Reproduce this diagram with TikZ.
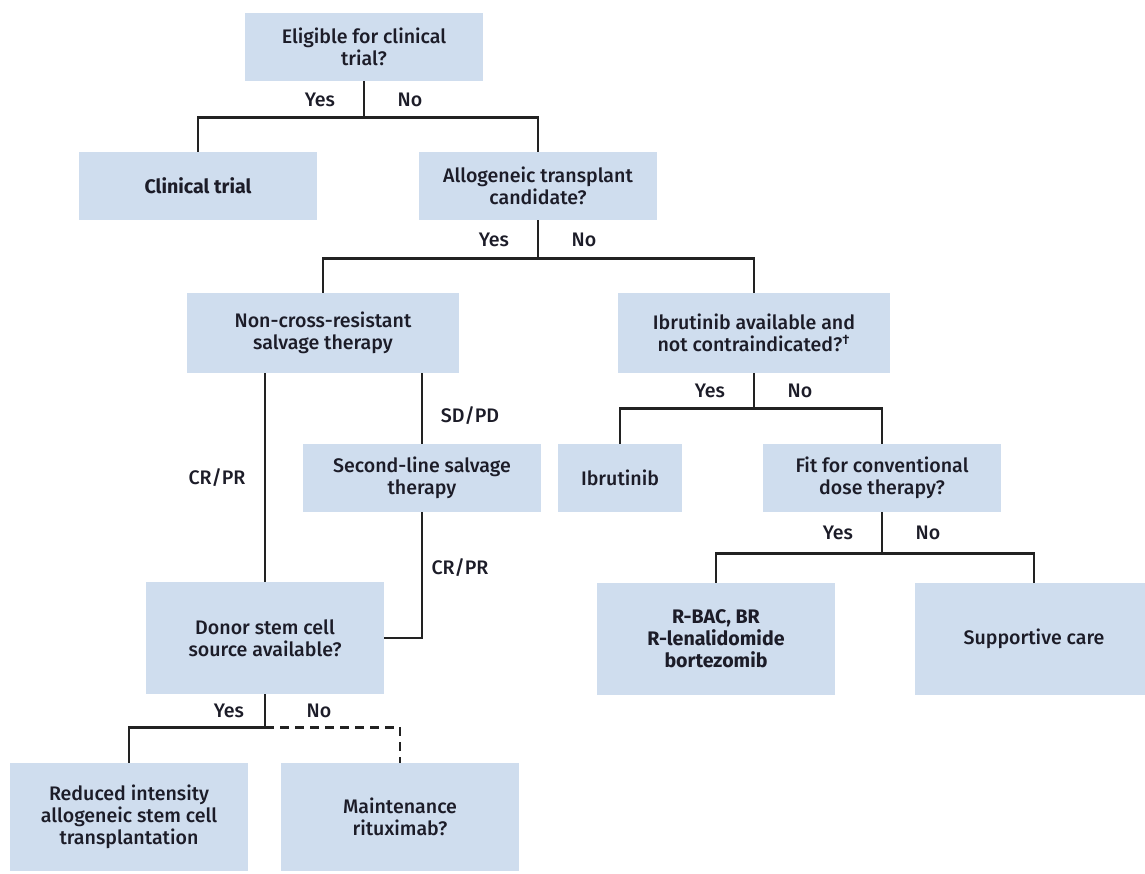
\documentclass[tikz,border=0pt]{standalone}
\usepackage{fontspec}
\setmainfont{Fira Sans}[UprightFont={* Medium}, BoldFont={* Bold}]
\usetikzlibrary{positioning}
\definecolor{boxblue}{RGB}{207,221,238}
\definecolor{ink}{RGB}{28,28,40}
\definecolor{linegray}{RGB}{34,34,34}
\tikzset{
  box/.style={fill=boxblue, text=ink, align=center, inner sep=0pt,
    font=\fontsize{9.8}{11}\selectfont, minimum width=119pt, minimum height=34pt},
  boldbox/.style={box, font=\fontsize{9.8}{11}\selectfont\bfseries},
  lbl/.style={text=ink, inner sep=0pt, font=\fontsize{9.8}{11}\selectfont},
  yeslbl/.style={lbl, xshift=-22pt},
  nolbl/.style={lbl, xshift=23pt},
  wire/.style={draw=linegray, line width=1.2pt},
}
\begin{document}
\begin{tikzpicture}[x=0.5pt, y=-0.5pt]
\useasboundingbox (0,0) rectangle (1145,873);
\node[box] (elig) at (364,47) {Eligible for clinical\\trial?};
\node[boldbox] (clin) at (198,186) {Clinical trial};
\node[box] (allo) at (538,186) {Allogeneic transplant\\candidate?};
%============
\node[box, minimum width=136pt, minimum height=40pt] (nonx) at (323,333) {Non-cross-resistant\\salvage therapy};
\node[box, minimum width=136pt, minimum height=40pt] (ibav) at (754,333) {Ibrutinib available and\\not contraindicated?\textsuperscript{\textdagger}};
\node[box] (second) at (422,478) {Second-line salvage\\therapy};
\node[box, minimum width=62pt] (ibru) at (620,478) {Ibrutinib};
\node[box] (fit) at (882,478) {Fit for conventional\\dose therapy?};
%============
\node[box, minimum height=56pt] (donor) at (265,638) {Donor stem cell\\source available?};
\node[boldbox, minimum height=56pt] (rbac) at (716,639) {R-BAC, BR\\R-lenalidomide\\bortezomib};
\node[box, minimum height=56pt] (supp) at (1034,639) {Supportive care};
\node[box, minimum height=54pt] (red) at (129,817) {Reduced intensity\\allogeneic stem cell\\transplantation};
\node[box, minimum height=54pt] (maint) at (400,817) {Maintenance\\rituximab?};
%==========

\draw[wire] (elig.south) -- node[yeslbl] {Yes} node[nolbl] {No} ++(0,36) coordinate (e1);
\draw[wire] (clin.north) |- (e1) -| (allo.north);

\draw[wire] (allo.south) -- node[yeslbl] {Yes} node[nolbl] {No} ++(0,38) coordinate (a1);
\draw[wire] (nonx.north) |- (a1) -| (ibav.north);

\draw[wire] (ibav.south) -- node[yeslbl] {Yes} node[nolbl] {No} ++(0,35) coordinate (i1);
\draw[wire] (ibru.north) |- (i1) -| (fit.north);

\draw[wire] (fit.south) -- node[yeslbl] {Yes} node[nolbl] {No} ++(0,41) coordinate (f1);
\draw[wire] (rbac.north) |- (f1) -| (supp.north);

\draw[wire] (nonx.south -| donor.north) -- node[lbl, xshift=-24pt] {CR/PR} (donor.north);
\draw[wire] (nonx.south -| second.north) -- node[lbl, pos=0.6, xshift=24pt] {SD/PD} (second.north);
\draw[wire] (second.south) |- node[lbl, pos=0.22, xshift=19pt] {CR/PR} (donor.east);

\draw[wire] (donor.south) -- node[lbl, xshift=-18pt] {Yes} node[lbl, xshift=27pt] {No} ++(0,33) coordinate (d1);
\draw[wire] (red.north) |- (d1);
\draw[wire, dash pattern=on 4.5pt off 3pt] (d1) -| (maint.north);
\end{tikzpicture}
\end{document}
